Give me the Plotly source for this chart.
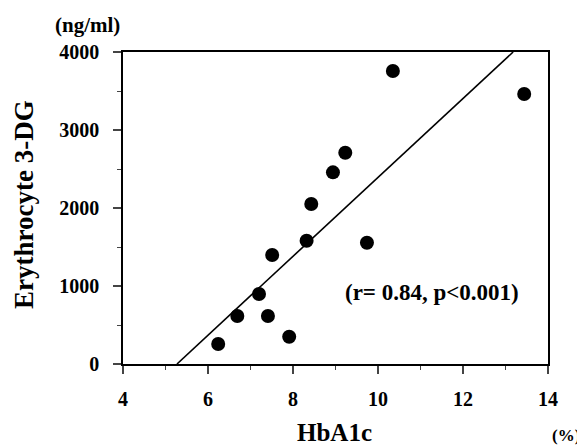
import plotly.graph_objects as go

hba1c = [6.24, 6.69, 7.20, 7.41, 7.51, 7.91, 8.32, 8.43, 8.94, 9.23, 9.74, 10.35, 13.44]
dg3 = [256, 615, 897, 615, 1397, 350, 1581, 2051, 2457, 2709, 1555, 3756, 3462]
fit_x = [5.27, 13.18]
fit_y = [0, 4000]
x_ticks = [4, 6, 8, 10, 12, 14]
x_minor = [5, 7, 9, 11, 13]
y_ticks = [0, 1000, 2000, 3000, 4000]
y_minor = [500, 1500, 2500, 3500]

FONT = "Liberation Serif"

fig = go.Figure()
fig.add_trace(go.Scatter(x=fit_x, y=fit_y, mode="lines",
                         line=dict(color="black", width=1.6), showlegend=False))
fig.add_trace(go.Scatter(x=hba1c, y=dg3, mode="markers",
                         marker=dict(color="black", size=14, line=dict(width=0)),
                         showlegend=False))

# page has an 8px body margin; the plot area sits at page x 123..548, y 52..364
fig.update_layout(
    width=577, height=440,
    margin=dict(l=115, r=37, t=44, b=84),
    paper_bgcolor="white", plot_bgcolor="white",
    font=dict(family=FONT, color="black"),
    xaxis=dict(range=[4, 14], tickvals=x_ticks,
               ticktext=["<b>%d</b>" % v for v in x_ticks],
               ticks="outside", ticklen=8, tickwidth=1.5,
               showline=True, linecolor="black", linewidth=1.5, mirror=True,
               showgrid=False, zeroline=False,
               tickfont=dict(family=FONT, size=20, color="black"),
               ticklabelstandoff=8,
               minor=dict(tickvals=x_minor, ticks="outside", ticklen=4,
                          tickwidth=1.2, showgrid=False)),
    yaxis=dict(range=[0, 4000], tickvals=y_ticks,
               ticktext=["<b>%d</b>" % v for v in y_ticks],
               ticks="outside", ticklen=8, tickwidth=1.5,
               showline=True, linecolor="black", linewidth=1.5, mirror=True,
               showgrid=False, zeroline=False,
               tickfont=dict(family=FONT, size=20, color="black"),
               ticklabelstandoff=10,
               minor=dict(tickvals=y_minor, ticks="outside", ticklen=4,
                          tickwidth=1.2, showgrid=False)),
)

def px(xp):
    return (xp - 123) / (548 - 123)

def py(yp):
    return (364 - yp) / (364 - 52)

def label(xp, yp, text, size, angle=0):
    fig.add_annotation(x=px(xp), y=py(yp), xref="paper", yref="paper",
                       xanchor="center", yanchor="middle",
                       text="<b>%s</b>" % text, showarrow=False, textangle=angle,
                       font=dict(family=FONT, size=size, color="black"))

label(432, 292, "(r= 0.84, p&lt;0.001)", 23)
label(334, 432, "HbA1c", 25)
label(566, 435, "(%)", 17)
label(87, 25, "(ng/ml)", 21)
label(24, 205, "Erythrocyte 3-DG", 27, -90)

fig.write_html("out.html")
